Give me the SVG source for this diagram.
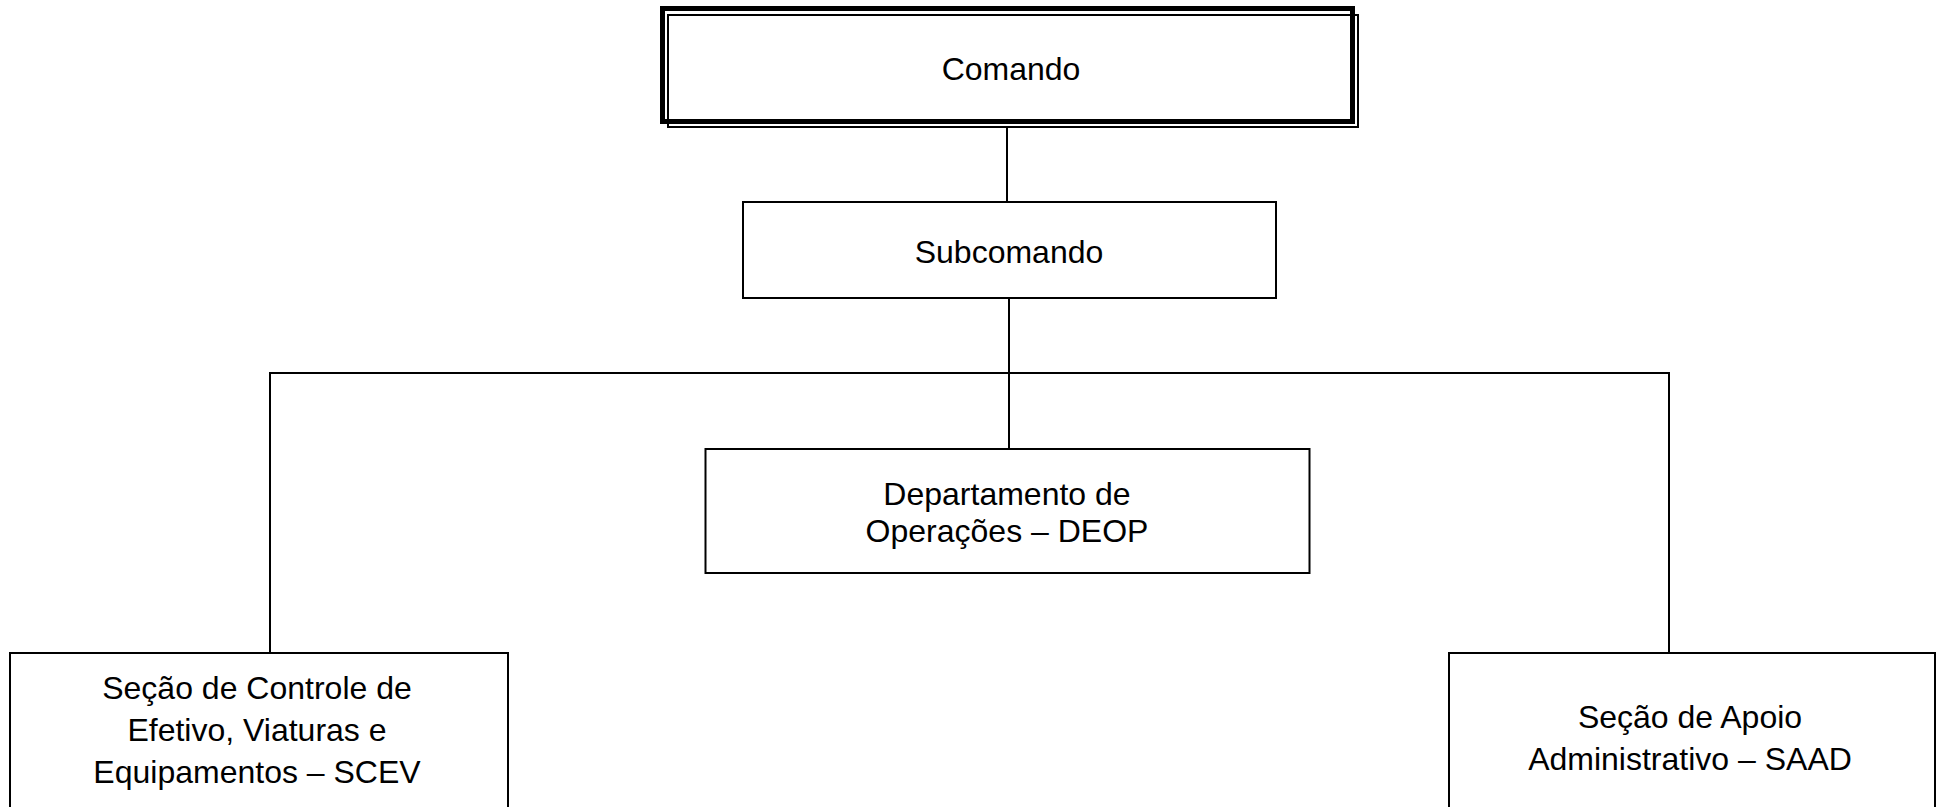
<svg xmlns="http://www.w3.org/2000/svg" width="1939" height="807" viewBox="0 0 1939 807">
  <style>
    .box { fill: #ffffff; stroke: #000000; stroke-width: 2; }
    .thick { fill: none; stroke: #000000; stroke-width: 5; }
    .conn { fill: none; stroke: #000000; stroke-width: 2; }
    .lbl { font-family: "Liberation Sans", Arial, sans-serif; font-size: 32px; fill: #000000; text-anchor: middle; }
  </style>
  <rect x="0" y="0" width="1939" height="807" fill="#ffffff"/>
  <g id="connectors">
    <line class="conn" x1="1007" y1="128" x2="1007" y2="202"/>
    <line class="conn" x1="1009" y1="298" x2="1009" y2="449"/>
    <line class="conn" x1="269" y1="373" x2="1670" y2="373"/>
    <line class="conn" x1="270" y1="372" x2="270" y2="653"/>
    <line class="conn" x1="1669" y1="372" x2="1669" y2="653"/>
  </g>
  <g id="comando">
    <rect class="box" x="668" y="15" width="690" height="112"/>
    <rect class="thick" x="662.5" y="8.5" width="690" height="113"/>
    <text class="lbl" x="1011" y="80">Comando</text>
  </g>
  <g id="subcomando">
    <rect class="box" x="743" y="202" width="533" height="96"/>
    <text class="lbl" x="1009" y="263">Subcomando</text>
  </g>
  <g id="deop">
    <rect class="box" x="705.5" y="449" width="604" height="124"/>
    <text class="lbl" x="1007" y="505">Departamento de</text>
    <text class="lbl" x="1007" y="542">Operações – DEOP</text>
  </g>
  <g id="scev">
    <rect class="box" x="10" y="653" width="498" height="180"/>
    <text class="lbl" x="257" y="699">Seção de Controle de</text>
    <text class="lbl" x="257" y="741">Efetivo, Viaturas e</text>
    <text class="lbl" x="257" y="783">Equipamentos – SCEV</text>
  </g>
  <g id="saad">
    <rect class="box" x="1449" y="653" width="486" height="180"/>
    <text class="lbl" x="1690" y="728">Seção de Apoio</text>
    <text class="lbl" x="1690" y="770">Administrativo – SAAD</text>
  </g>
</svg>
